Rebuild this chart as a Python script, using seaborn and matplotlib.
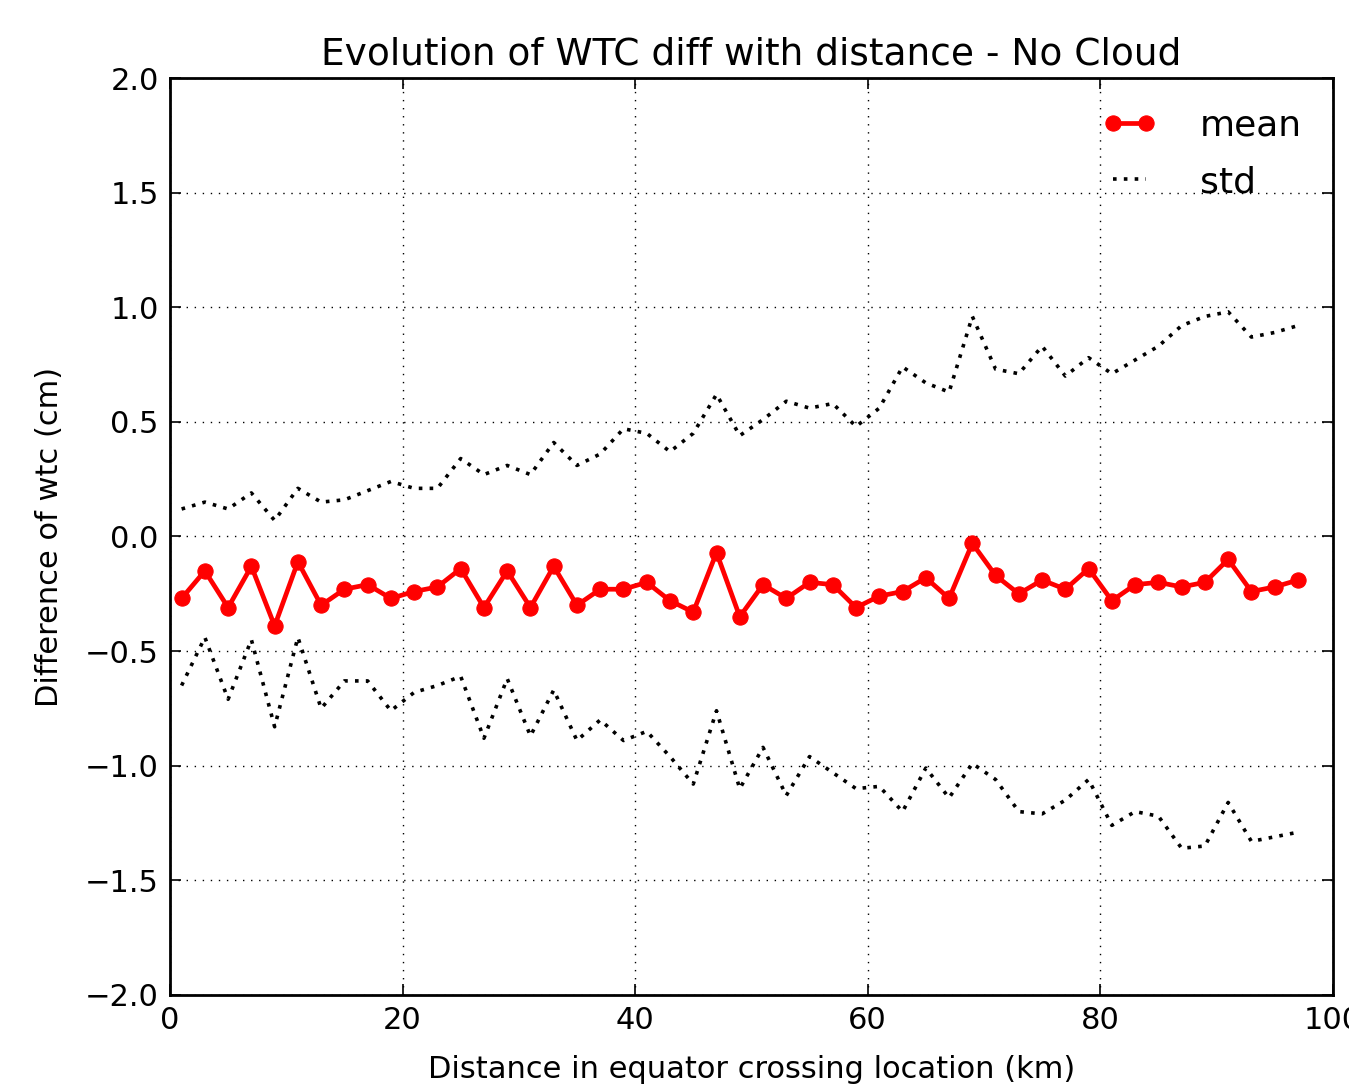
import numpy as np
import pandas as pd
import matplotlib
matplotlib.use("Agg")
import matplotlib.pyplot as plt
import seaborn as sns

distance = list(range(1, 98, 2))

mean_diff = [-0.27, -0.15, -0.31, -0.13, -0.39, -0.11, -0.30, -0.23, -0.21, -0.27,
             -0.24, -0.22, -0.14, -0.31, -0.15, -0.31, -0.13, -0.30, -0.23, -0.23,
             -0.20, -0.28, -0.33, -0.07, -0.35, -0.21, -0.27, -0.20, -0.21, -0.31,
             -0.26, -0.24, -0.18, -0.27, -0.03, -0.17, -0.25, -0.19, -0.23, -0.14,
             -0.28, -0.21, -0.20, -0.22, -0.20, -0.10, -0.24, -0.22, -0.19]

std_upper = [0.12, 0.15, 0.12, 0.19, 0.07, 0.21, 0.15, 0.16, 0.20, 0.24,
             0.21, 0.21, 0.34, 0.27, 0.31, 0.27, 0.41, 0.31, 0.36, 0.47,
             0.45, 0.37, 0.45, 0.62, 0.44, 0.51, 0.59, 0.56, 0.58, 0.48,
             0.56, 0.74, 0.67, 0.63, 0.96, 0.73, 0.71, 0.83, 0.70, 0.78,
             0.71, 0.77, 0.83, 0.92, 0.96, 0.98, 0.87, 0.89, 0.92]

std_lower = [-0.65, -0.44, -0.71, -0.45, -0.83, -0.44, -0.75, -0.63, -0.63, -0.76,
             -0.68, -0.65, -0.61, -0.88, -0.62, -0.87, -0.67, -0.89, -0.80, -0.89,
             -0.85, -0.96, -1.08, -0.76, -1.10, -0.92, -1.13, -0.96, -1.03, -1.10,
             -1.09, -1.20, -1.01, -1.14, -0.99, -1.06, -1.20, -1.21, -1.15, -1.06,
             -1.26, -1.20, -1.22, -1.36, -1.35, -1.16, -1.33, -1.31, -1.29]

x_ticks = [0, 20, 40, 60, 80, 100]
y_ticks = [-2.0, -1.5, -1.0, -0.5, 0.0, 0.5, 1.0, 1.5, 2.0]
y_tick_labels = ["\u22122.0", "\u22121.5", "\u22121.0", "\u22120.5", "0.0",
                 "0.5", "1.0", "1.5", "2.0"]

df = pd.DataFrame({"distance": distance, "mean": mean_diff,
                   "upper": std_upper, "lower": std_lower})

sns.set_style("ticks")
plt.rcParams["font.family"] = ["DejaVu Sans"]
for k in ["text.color", "axes.labelcolor", "xtick.color", "ytick.color",
          "axes.edgecolor"]:
    plt.rcParams[k] = "black"
plt.rcParams["xtick.direction"] = "in"
plt.rcParams["ytick.direction"] = "in"

fig = plt.figure(figsize=(13.49, 10.91), dpi=100)
ax = fig.add_axes([0.126, 0.088, 0.862, 0.8405])

sns.lineplot(data=df, x="distance", y="mean", ax=ax, color="red",
             marker="o", markersize=11, markeredgecolor="red",
             linewidth=3.4, label="mean")
sns.lineplot(data=df, x="distance", y="upper", ax=ax, color="black",
             linestyle=(0, (1, 2)), linewidth=2.6, label="std")
sns.lineplot(data=df, x="distance", y="lower", ax=ax, color="black",
             linestyle=(0, (1, 2)), linewidth=2.6, label="_nolegend_")

ax.set_xlim(0, 100)
ax.set_ylim(-2, 2)
ax.set_xticks(x_ticks)
ax.set_yticks(y_ticks)
ax.set_yticklabels(y_tick_labels)
ax.grid(True, color="black", linestyle=(0, (1, 4.8)), linewidth=1)
ax.tick_params(axis="both", labelsize=22, length=8, width=1.2,
               top=True, right=True, direction="in", pad=8)
for s in ax.spines.values():
    s.set_linewidth(2)
    s.set_color("black")

ax.set_xlabel("Distance in equator crossing location (km)", fontsize=22, labelpad=14)
ax.set_ylabel("Difference of wtc (cm)", fontsize=22, labelpad=15)
ax.set_title("Evolution of WTC diff with distance - No Cloud", fontsize=27, pad=10)

leg = ax.legend(loc="upper right", fontsize=26, frameon=False, numpoints=2,
                handlelength=1.5, borderaxespad=0.45, labelspacing=0.62,
                handletextpad=1.2)

fig.savefig("out.png", dpi=100)
